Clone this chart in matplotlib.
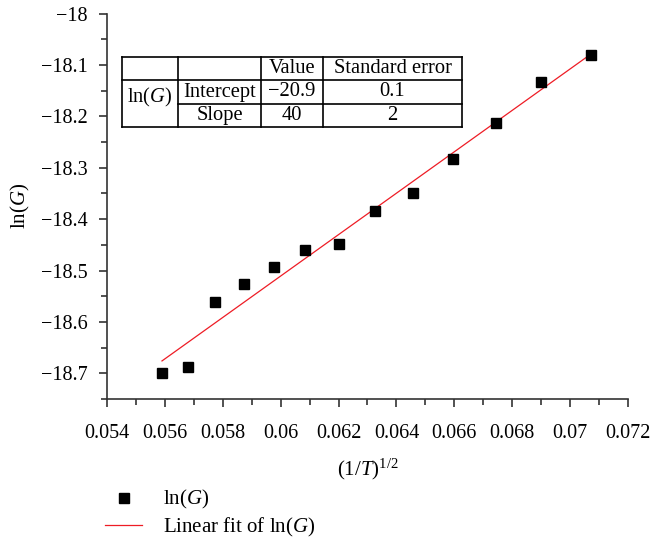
"""
ln(G) vs (1/T)^(1/2) with linear fit and fit-parameter table
"""
import numpy as np
import matplotlib
matplotlib.use("Agg")
import matplotlib.pyplot as plt
from matplotlib.ticker import MultipleLocator

# data
inv_sqrt_t = [0.0559, 0.05679, 0.05774, 0.05872, 0.05976, 0.06085, 0.06202,
              0.06325, 0.06456, 0.06594, 0.06743, 0.06900, 0.07072]
ln_g = [-18.699, -18.688, -18.562, -18.527, -18.493, -18.461, -18.449,
        -18.384, -18.350, -18.283, -18.213, -18.133, -18.080]

table_rows = [["", "", "Value", "Standard error"],
              ["ln($G$)", "Intercept", "\u221220.9", "0.1"],
              ["", "Slope", "40", "2"]]

plt.rcParams['font.family'] = ['Liberation Serif', 'DejaVu Serif']
plt.rcParams['mathtext.fontset'] = 'custom'
plt.rcParams['mathtext.rm'] = 'Liberation Serif'
plt.rcParams['mathtext.it'] = 'Liberation Serif:italic'
fs = 14.5
fs_tab = 14.8
fs_lab = 15

fig = plt.figure(figsize=(6.58, 5.39), dpi=100)
ax = fig.add_axes([107/658, 1-399/539, 521/658, 385.4/539])

x = np.array(inv_sqrt_t)
y = np.array(ln_g)
slope, intercept = np.polyfit(x, y, 1)

ax.plot(x, y, 's', color='black', markersize=7, label="ln($G$)", zorder=3)
ax.plot(x, intercept + slope*x, color='#ee1c25', linewidth=0.9,
        label="Linear fit of ln($G$)", zorder=2)

ax.set_xlim(0.054, 0.072)
ax.set_ylim(-18.75, -18.0)
ax.xaxis.set_minor_locator(MultipleLocator(0.001))
ax.yaxis.set_minor_locator(MultipleLocator(0.05))
ax.set_xticks(np.arange(0.054, 0.0721, 0.002))
ax.set_xticklabels(["0.054", "0.056", "0.058", "0.06", "0.062", "0.064",
                    "0.066", "0.068", "0.07", "0.072"])
ax.set_yticks(np.arange(-18.7, -17.99, 0.1))
ax.set_yticklabels(["\u221218.7", "\u221218.6", "\u221218.5", "\u221218.4",
                    "\u221218.3", "\u221218.2", "\u221218.1", "\u221218"])

for s in ['top', 'right']:
    ax.spines[s].set_visible(False)
for s in ['left', 'bottom']:
    ax.spines[s].set_linewidth(1.2)
    ax.spines[s].set_color('#333333')
ax.tick_params(which='major', direction='out', length=6, width=1.2,
               labelsize=fs, color='#333333')
ax.tick_params(axis='x', which='major', pad=12)
ax.tick_params(axis='y', which='major', pad=8)
ax.tick_params(which='minor', direction='out', length=4, width=1.2, color='#333333')

ax.set_xlabel("(1/$T$)$^{1/2}$", fontsize=fs_lab, labelpad=10)
ax.set_ylabel("ln($G$)", fontsize=fs_lab, labelpad=6)

# fit parameter table (pixel layout converted to axes fraction)
col_px = [122, 178, 261, 323, 462]
row_px = [57, 80, 104, 127]
cx = [(p - 107)/521 for p in col_px]
ry = [(399 - p)/385.4 for p in row_px]
lk = dict(transform=ax.transAxes, color='black', linewidth=1.2, clip_on=False)
for yy in [ry[0], ry[1], ry[3]]:
    ax.plot([cx[0], cx[-1]], [yy, yy], **lk)
ax.plot([cx[1], cx[-1]], [ry[2], ry[2]], **lk)
for xx in cx:
    ax.plot([xx, xx], [ry[0], ry[3]], **lk)
for r, row in enumerate(table_rows):
    for c, txt in enumerate(row):
        if not txt or (r == 1 and c == 0):
            continue
        ax.text((cx[c]+cx[c+1])/2, (ry[r]+ry[r+1])/2, txt, transform=ax.transAxes,
                ha='center', va='center', fontsize=fs_tab)
ax.text((cx[0]+cx[1])/2, (399-97)/385.4, table_rows[1][0], transform=ax.transAxes,
        ha='center', va='center', fontsize=fs_tab)

fig.legend(loc='upper left', bbox_to_anchor=(97/658, 1-480/539), frameon=False,
           fontsize=fs_lab, handlelength=1.75, handletextpad=1.0, labelspacing=0.2,
           borderaxespad=0)

fig.savefig("out.png", dpi=100)
